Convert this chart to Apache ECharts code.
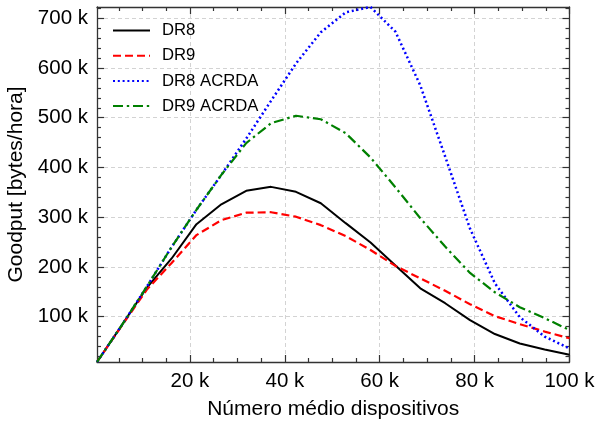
<!DOCTYPE html>
<html>
<head>
<meta charset="utf-8">
<script src="https://cdn.jsdelivr.net/npm/echarts@6/dist/echarts.min.js"></script>
<style>
  html, body { margin: 0; padding: 0; background: #fff; }
  #chart { width: 597px; height: 423px; }
</style>
</head>
<body>
<div id="chart"></div>
<script>
// x: número médio de dispositivos (milhares)
const devices = [0.4, 5.64, 10.88, 16.13, 21.37, 26.61, 31.85, 37.09, 42.34, 47.58, 52.82, 58.06, 63.31, 68.55, 73.79, 79.03, 84.27, 89.52, 94.76, 100]
// goodput em milhares de bytes/hora
const dr8 = [8.8, 83, 158, 217, 286, 326, 353, 361, 351, 328, 288, 249, 203, 157, 127, 93, 65, 46, 34, 23.5]
const dr9 = [8.8, 82, 154, 208, 264, 294, 309, 310, 301, 284, 262, 234, 202, 177, 152, 125, 101, 85, 70, 56.5]
const dr8Acrda = [8.8, 83, 160, 240, 315, 385, 458, 534, 609, 672, 712, 722.7, 673, 565, 422, 277, 167, 99, 60, 36]
const dr9Acrda = [8.8, 83, 160, 240, 315, 385, 449, 489, 504, 497, 469, 420, 360, 298, 241, 188, 149, 119, 97, 73]

const xTicks = [20, 40, 60, 80, 100]
const xMinorTicks = [5, 10, 15, 25, 30, 35, 45, 50, 55, 65, 70, 75, 85, 90, 95]
const yTicks = [100, 200, 300, 400, 500, 600, 700]
const yMinorTicks = [20, 40, 60, 80, 120, 140, 160, 180, 220, 240, 260, 280, 320, 340, 360, 380,
  420, 440, 460, 480, 520, 540, 560, 580, 620, 640, 660, 680, 720]

const FONT = 'Liberation Sans'
const axisColor = '#333'
const xRange = { min: 0.4, max: 100 }
const yRange = { min: 8.8, max: 722.7 }

const pair = (xs) => xs.map((x, i) => [devices[i], x])

// eixo com ticks para dentro (estilo matplotlib)
function makeAxis(extra, ticks, len, range) {
  return Object.assign({
    type: 'value',
    min: range.min,
    max: range.max,
    axisLine: { show: true, onZero: false, lineStyle: { color: axisColor, width: 1.3 } },
    axisTick: { show: true, inside: true, length: len, customValues: ticks, lineStyle: { color: axisColor, width: 1.2 } },
    axisLabel: { show: false },
    splitLine: { show: false }
  }, extra)
}

const grids = [
  { left: 97, top: 7, width: 472.5, height: 355, outerBoundsMode: 'none' },
  { left: 97, top: 7, width: 472.5, height: 355, outerBoundsMode: 'none' }
]

const tickLabel = {
  show: true, color: '#000', fontSize: 20.5, fontFamily: FONT,
  formatter: v => v + ' k'
}
const nameStyle = { color: '#000', fontSize: 21, fontFamily: FONT }
const gridLine = { show: true, lineStyle: { color: '#d3d3d3', type: [4, 3], width: 1 } }

const xAxes = [
  makeAxis({
    gridIndex: 0, position: 'bottom',
    axisLabel: Object.assign({ customValues: xTicks, margin: 9 }, tickLabel),
    splitLine: gridLine,
    name: 'Número médio dispositivos', nameLocation: 'middle', nameGap: 37,
    nameTextStyle: nameStyle
  }, xTicks, 7, xRange),
  makeAxis({ gridIndex: 0, position: 'top' }, xTicks, 7, xRange),
  makeAxis({ gridIndex: 1, position: 'bottom', axisLine: { show: false } }, xMinorTicks, 4, xRange),
  makeAxis({ gridIndex: 1, position: 'top', axisLine: { show: false } }, xMinorTicks, 4, xRange)
]

const yAxes = [
  makeAxis({
    gridIndex: 0, position: 'left',
    axisLabel: Object.assign({ customValues: yTicks, margin: 9 }, tickLabel),
    splitLine: gridLine,
    name: 'Goodput [bytes/hora]', nameLocation: 'middle', nameGap: 70, nameRotate: 90,
    nameTextStyle: nameStyle
  }, yTicks, 7, yRange),
  makeAxis({ gridIndex: 0, position: 'right' }, yTicks, 7, yRange),
  makeAxis({ gridIndex: 1, position: 'left', axisLine: { show: false } }, yMinorTicks, 4, yRange),
  makeAxis({ gridIndex: 1, position: 'right', axisLine: { show: false } }, yMinorTicks, 4, yRange)
]

function lineSeries(name, data, color, type, width) {
  return {
    name: name,
    type: 'line',
    xAxisIndex: 0,
    yAxisIndex: 0,
    data: pair(data),
    showSymbol: false,
    symbol: 'none',
    clip: true,
    lineStyle: { color: color, width: width, type: type, cap: 'butt' },
    itemStyle: { color: color }
  }
}

const chart = echarts.init(document.getElementById('chart'))
chart.setOption({
  animation: false,
  backgroundColor: '#fff',
  grid: grids,
  xAxis: xAxes,
  yAxis: yAxes,
  legend: {
    orient: 'vertical',
    left: 112,
    top: 22,
    padding: 0,
    itemWidth: 37,
    itemHeight: 14,
    itemGap: 8.2,
    itemStyle: { color: 'transparent', borderWidth: 0 },
    textStyle: { color: '#000', fontSize: 16.7, fontFamily: FONT, padding: [0, 0, 0, 7] },
    data: ['DR8', 'DR9', 'DR8 ACRDA', 'DR9 ACRDA']
  },
  series: [
    lineSeries('DR8', dr8, '#000000', 'solid', 2),
    lineSeries('DR9', dr9, '#ff0000', [8, 4], 2.2),
    lineSeries('DR8 ACRDA', dr8Acrda, '#0000ff', [2, 2.8], 2.5),
    lineSeries('DR9 ACRDA', dr9Acrda, '#008000', [10, 3.8, 2.4, 3.8], 2.2)
  ]
})
</script>
</body>
</html>
